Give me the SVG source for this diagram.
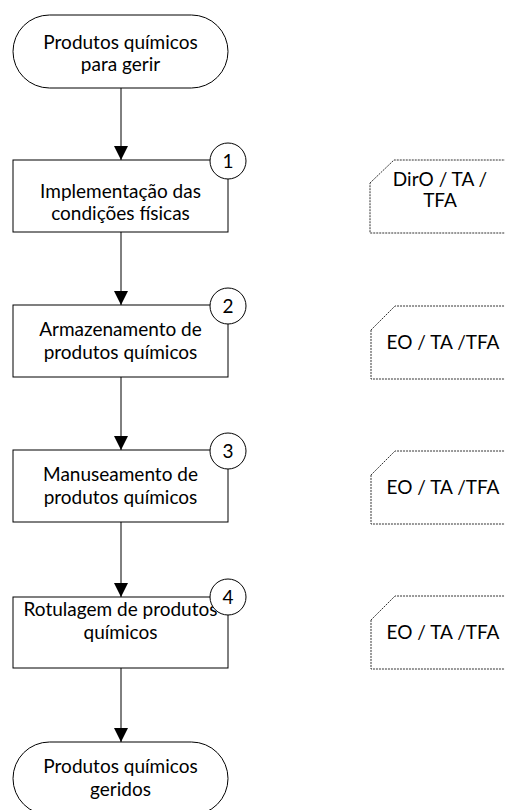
<svg xmlns="http://www.w3.org/2000/svg" width="505" height="810" viewBox="0 0 505 810">
<defs>
<style>
.term,.proc{fill:#fff;stroke:#000;stroke-width:1}
.num{fill:#fff;stroke:#000;stroke-width:1}
.card{fill:#fff;stroke:#333;stroke-width:1;stroke-dasharray:2 1}
.t{font-family:Lato,"Liberation Sans",sans-serif;font-size:19px;fill:#000;text-anchor:middle}
.conn{stroke:#000;stroke-width:1;fill:none}
</style>
<marker id="arr" markerWidth="16" markerHeight="14" refX="14" refY="7" orient="auto" markerUnits="userSpaceOnUse">
<path d="M0,0 L14,7 L0,14 Z" fill="#000"/>
</marker>
</defs>
<rect width="505" height="810" fill="#fff"/>
<g id="connectors">
<line class="conn" x1="121" y1="88" x2="121" y2="160" marker-end="url(#arr)"/>
<line class="conn" x1="121" y1="232" x2="121" y2="305" marker-end="url(#arr)"/>
<line class="conn" x1="121" y1="377" x2="121" y2="450" marker-end="url(#arr)"/>
<line class="conn" x1="121" y1="522" x2="121" y2="597" marker-end="url(#arr)"/>
<line class="conn" x1="121" y1="668" x2="121" y2="742" marker-end="url(#arr)"/>
</g>
<g id="start">
<rect class="term" x="13" y="15" width="215" height="73" rx="36.5" ry="36.5"/>
<text class="t" x="120.5" y="49">Produtos químicos</text>
<text class="t" x="120.5" y="71">para gerir</text>
</g>
<g id="step1">
<rect class="proc" x="13" y="160" width="215" height="72"/>
<text class="t" x="120.5" y="198">Implementação das</text>
<text class="t" x="120.5" y="220">condições físicas</text>
<circle class="num" cx="228" cy="161" r="18"/>
<text class="t" x="228" y="168">1</text>
</g>
<g id="step2">
<rect class="proc" x="13" y="305" width="215" height="72"/>
<text class="t" x="120.5" y="336">Armazenamento de</text>
<text class="t" x="120.5" y="359">produtos químicos</text>
<circle class="num" cx="228" cy="306" r="18"/>
<text class="t" x="228" y="313">2</text>
</g>
<g id="step3">
<rect class="proc" x="13" y="450" width="215" height="72"/>
<text class="t" x="120.5" y="481">Manuseamento de</text>
<text class="t" x="120.5" y="504">produtos químicos</text>
<circle class="num" cx="228" cy="451" r="18"/>
<text class="t" x="228" y="458">3</text>
</g>
<g id="step4">
<rect class="proc" x="13" y="597" width="215" height="71"/>
<text class="t" x="120.5" y="616">Rotulagem de produtos</text>
<text class="t" x="120.5" y="639">químicos</text>
<circle class="num" cx="228" cy="597" r="18"/>
<text class="t" x="228" y="604">4</text>
</g>
<g id="end">
<rect class="term" x="13" y="742" width="215" height="73" rx="36.5" ry="36.5"/>
<text class="t" x="120.5" y="773">Produtos químicos</text>
<text class="t" x="120.5" y="796">geridos</text>
</g>
<g id="role1">
<path class="card" d="M370,183 L394,160 L510,160 L510,233 L370,233 Z"/>
<text class="t" x="440" y="186">DirO / TA /</text>
<text class="t" x="440" y="207">TFA</text>
</g>
<g id="role2">
<path class="card" d="M371,330 L395,306 L510,306 L510,379 L371,379 Z"/>
<text class="t" x="443" y="349">EO / TA /TFA</text>
</g>
<g id="role3">
<path class="card" d="M371,475 L395,451 L510,451 L510,524 L371,524 Z"/>
<text class="t" x="443" y="494">EO / TA /TFA</text>
</g>
<g id="role4">
<path class="card" d="M371,620 L395,596 L510,596 L510,669 L371,669 Z"/>
<text class="t" x="443" y="639">EO / TA /TFA</text>
</g>
</svg>
